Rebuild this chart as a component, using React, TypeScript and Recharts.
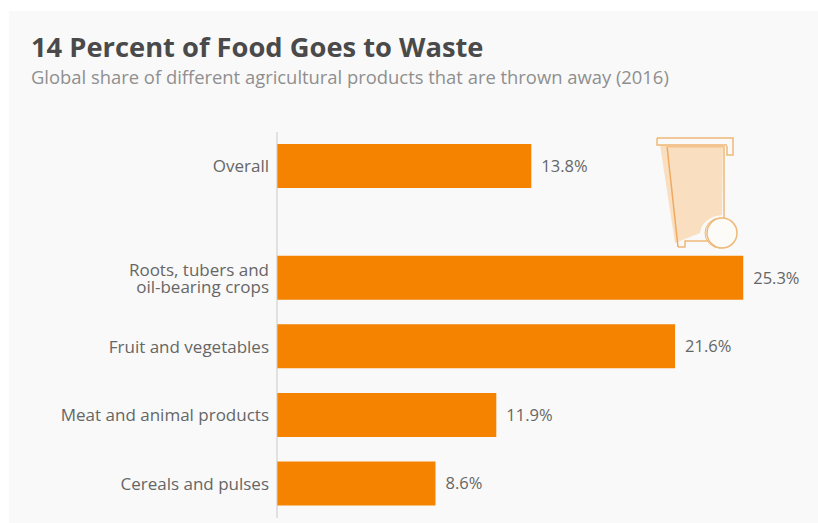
import { Bar, BarChart, LabelList, XAxis, YAxis } from 'recharts';

const categories = [
  ['Overall'],
  ['Roots, tubers and', 'oil-bearing crops'],
  ['Fruit and vegetables'],
  ['Meat and animal products'],
  ['Cereals and pulses'],
];
const shares = [13.8, 25.3, 21.6, 11.9, 8.6];
// row slots on the y axis: the overall bar sits apart from the product groups
const rows = [0, 1.63, 2.63, 3.63, 4.63];

const chartData = categories.map((lines, i) => ({
  row: rows[i],
  name: lines,
  value: shares[i],
}));

const textColor = '#666666';
const font = '"Open Sans", sans-serif';

function CategoryTick({ x, y, payload }: any) {
  const lines = categories[rows.indexOf(payload.value)] ?? [];
  const lineHeight = 17;
  const start = y - ((lines.length - 1) * lineHeight) / 2;
  return (
    <text x={x} textAnchor="end" fill={textColor} fontSize={17} fontFamily={font}>
      {lines.map((line: string, i: number) => (
        <tspan key={line} x={x} y={start + i * lineHeight} dy="0.36em">
          {line}
        </tspan>
      ))}
    </text>
  );
}

// wheelie bin pictogram beside the overall bar
function BinIcon() {
  const line = '#eeb877';
  return (
    <svg
      width={110}
      height={130}
      viewBox="0 0 110 130"
      style={{ position: 'absolute', left: 640, top: 125 }}
    >
      <path d="M20 20 H83 L82 90 C70 91 61 98 60 108 L35 118 Z" fill="#f9dfbf" />
      <path d="M38 122 H45 V116 H68" fill="none" stroke={line} strokeWidth={1.5} />
      <path d="M27 21 L38 122" fill="none" stroke="#efa960" strokeWidth={1.5} />
      <path d="M17 13 H93 V30 H87 V21" fill="none" stroke={line} strokeWidth={1.5} />
      <path d="M17 13 V20 H87" fill="none" stroke={line} strokeWidth={1.5} />
      <path d="M26 21 H83" fill="none" stroke="#f3c48e" strokeWidth={3} />
      <path d="M84 21 V95" fill="none" stroke={line} strokeWidth={1.5} />
      <circle cx={80} cy={108} r={15} fill="none" stroke={line} strokeWidth={1} />
      <circle cx={82} cy={108} r={15} fill="#fdfbf8" stroke={line} strokeWidth={1.5} />
    </svg>
  );
}

export default function App() {
  return (
    <div style={{ position: 'absolute', left: 0, top: 0, width: 818, height: 523, background: '#ffffff', overflow: 'hidden' }}>
      <div style={{ position: 'absolute', left: 9, top: 11, width: 809, height: 512, background: '#f9f9f9' }} />
      <div style={{ position: 'absolute', left: 31, top: 29, fontFamily: font, fontWeight: 700, fontSize: 27.3, lineHeight: '36px', color: '#4a4a4a', whiteSpace: 'nowrap' }}>
        14 Percent of Food Goes to Waste
      </div>
      <div style={{ position: 'absolute', left: 31, top: 64, fontFamily: font, fontSize: 18.4, lineHeight: '26px', color: '#8f8f8f', whiteSpace: 'nowrap' }}>
        Global share of different agricultural products that are thrown away (2016)
      </div>
      <div style={{ position: 'absolute', left: 0, top: 0 }}>
        <BarChart
          width={818}
          height={523}
          layout="vertical"
          data={chartData}
          margin={{ top: 132, right: 25, bottom: 5, left: 0 }}
        >
          <XAxis type="number" domain={[0, 28]} hide />
          <YAxis
            type="number"
            dataKey="row"
            domain={[-0.5, 5.13]}
            ticks={rows}
            interval={0}
            width={277}
            tick={<CategoryTick />}
            tickLine={false}
            tickMargin={2}
            axisLine={{ stroke: '#c9c9c9', strokeWidth: 1 }}
          />
          <Bar dataKey="value" fill="#f58300" barSize={44} isAnimationActive={false}>
            <LabelList
              dataKey="value"
              position="right"
              offset={10}
              formatter={(v: any) => `${v}%`}
              style={{ fill: textColor, fontSize: 16.5, fontFamily: font }}
            />
          </Bar>
        </BarChart>
      </div>
      <BinIcon />
    </div>
  );
}
